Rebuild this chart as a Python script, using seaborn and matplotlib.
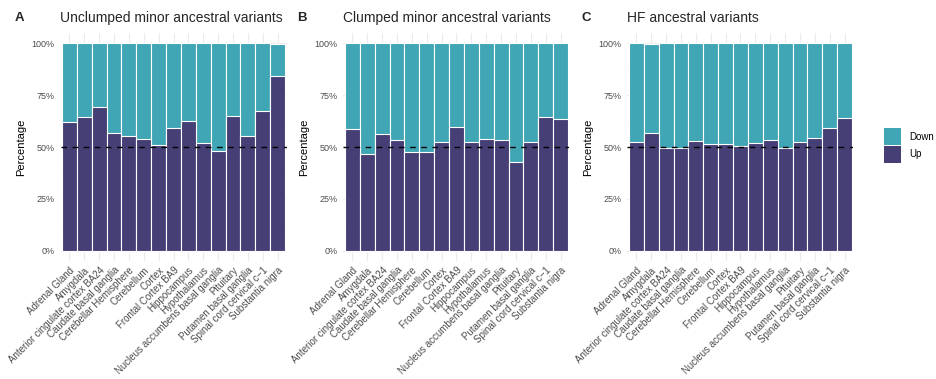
import matplotlib
matplotlib.use("Agg")
import matplotlib.pyplot as plt
import seaborn as sns
import numpy as np
import pandas as pd
from matplotlib.patches import Rectangle
from matplotlib.ticker import FuncFormatter, MultipleLocator

sns.set_theme(style="white")
plt.rcParams['font.family'] = ['Liberation Sans', 'DejaVu Sans']

tissues = ["Adrenal Gland", "Amygdala", "Anterior cingulate cortex BA24",
           "Caudate basal ganglia", "Cerebellar Hemisphere", "Cerebellum",
           "Cortex", "Frontal Cortex BA9", "Hippocampus", "Hypothalamus",
           "Nucleus accumbens basal ganglia", "Pituitary",
           "Putamen basal ganglia", "Spinal cord cervical c\u22121",
           "Substantia nigra"]

panel_letters = ["A", "B", "C"]
panel_titles = ["Unclumped minor ancestral variants",
                "Clumped minor ancestral variants",
                "HF ancestral variants"]

# Percentage of "Up" per tissue (fraction) and stacked totals
up_unclumped = [0.620, 0.643, 0.693, 0.567, 0.551, 0.537, 0.508, 0.592,
                0.624, 0.518, 0.479, 0.648, 0.553, 0.674, 0.841]
total_unclumped = [1.0] * 14 + [0.997]

up_clumped = [0.585, 0.466, 0.561, 0.534, 0.474, 0.474, 0.523, 0.598,
              0.524, 0.539, 0.532, 0.426, 0.524, 0.643, 0.637]
total_clumped = [1.0] * 15

up_hf = [0.524, 0.566, 0.494, 0.494, 0.527, 0.514, 0.514, 0.505,
         0.519, 0.534, 0.494, 0.524, 0.543, 0.593, 0.640]
total_hf = [1.0, 0.997] + [1.0] * 13

series_up = [up_unclumped, up_clumped, up_hf]
series_total = [total_unclumped, total_clumped, total_hf]

col_down = "#40A5B5"
col_up = "#463F76"
grey = "#4D4D4D"

W, H = 937, 379
fig = plt.figure(figsize=(W / 100, H / 100), dpi=100)

lefts = [60.5, 343.5, 627.5]
pw, ptop, pbot = 226, 33, 261

for i in range(3):
    ax = fig.add_axes([lefts[i] / W, 1 - pbot / H, pw / W, (pbot - ptop) / H])
    df = pd.DataFrame({"Tissue": tissues, "Up": series_up[i],
                       "Total": series_total[i]})
    # minor / major grid
    for yv in [0.125, 0.375, 0.625, 0.875]:
        ax.axhline(yv, color="#F2F2F2", lw=0.5, zorder=0)
    for yv in [0, 0.25, 0.5, 0.75, 1.0]:
        ax.axhline(yv, color="#EBEBEB", lw=0.8, zorder=0)
    for xv in range(len(tissues)):
        ax.axvline(xv, color="#EBEBEB", lw=0.8, zorder=0)
    sns.barplot(data=df, x="Tissue", y="Total", color=col_down, width=1.0,
                saturation=1, edgecolor="white", linewidth=0.8, ax=ax,
                zorder=2)
    sns.barplot(data=df, x="Tissue", y="Up", color=col_up, width=1.0,
                saturation=1, edgecolor="white", linewidth=0.8, ax=ax,
                zorder=3)
    ax.axhline(0.5, color="black", lw=1.0, ls=(0, (4, 4)), zorder=5)
    ax.set_xlim(-0.6, len(tissues) - 0.4)
    ax.set_ylim(-0.05, 1.05)
    ax.yaxis.set_major_locator(MultipleLocator(0.25))
    ax.yaxis.set_major_formatter(FuncFormatter(lambda v, p: f"{v*100:.0f}%"))
    ax.set_xticks(range(len(tissues)))
    ax.set_xticklabels(tissues, rotation=45, ha="right", va="top",
                       rotation_mode="anchor", fontsize=7, color=grey)
    ax.tick_params(axis="y", labelsize=6.5, labelcolor=grey, length=0, pad=4)
    ax.tick_params(axis="x", length=0, pad=3)
    ax.set_xlabel("")
    ax.set_ylabel("Percentage", fontsize=8, color="black", labelpad=4)
    for s in ax.spines.values():
        s.set_visible(False)
    ax.set_facecolor("none")
    fig.text((lefts[i] - 46) / W, 1 - 18 / H, panel_letters[i],
             fontsize=9.5, fontweight="bold", ha="left", va="center")
    fig.text((lefts[i]) / W, 1 - 18 / H, panel_titles[i],
             fontsize=10, ha="left", va="center")

# legend
for j, (lab, c) in enumerate([("Down", col_down), ("Up", col_up)]):
    y0 = 128 + j * 18
    fig.add_artist(Rectangle((884 / W, 1 - (y0 + 17) / H), 17 / W, 17 / H,
                             transform=fig.transFigure, color=c, lw=0))
    fig.text(909 / W, 1 - (y0 + 8.5) / H, lab, fontsize=7, ha="left",
             va="center", color="black")

fig.savefig("out.png", dpi=100)
